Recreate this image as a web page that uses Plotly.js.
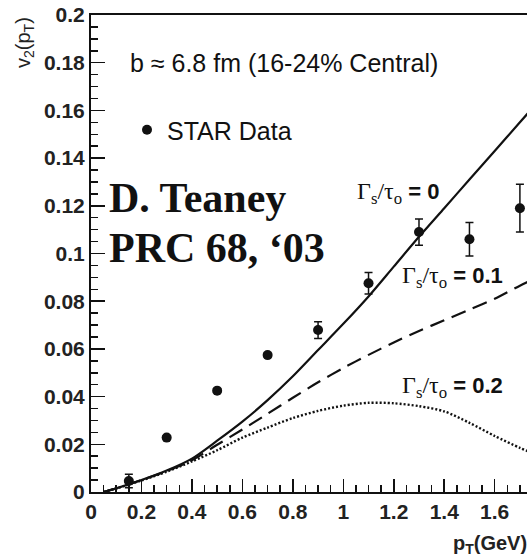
<!DOCTYPE html>
<html>
<head>
<meta charset="utf-8">
<script src="https://cdn.plot.ly/plotly-3.0.1.min.js"></script>
<style>
  html, body { margin: 0; padding: 0; background: #ffffff; }
  #chart { width: 527px; height: 555px; }
</style>
</head>
<body>
<div id="chart"></div>
<script>
// STAR v2(pT) data, 16-24% central
const starPt = [0.15, 0.3, 0.5, 0.7, 0.9, 1.1, 1.3, 1.5, 1.7];
const starV2 = [0.0046, 0.0228, 0.0425, 0.0574, 0.0679, 0.0875, 0.109, 0.106, 0.119];
const starErr = [0.0028, 0.0008, 0.0008, 0.0008, 0.0035, 0.0045, 0.0055, 0.007, 0.010];

// viscous hydro curves, Gamma_s/tau_0 = 0, 0.1, 0.2
const curvePt = [0.05, 0.1, 0.2, 0.3, 0.4, 0.5, 0.6, 0.7, 0.8, 0.9, 1.0, 1.1, 1.2, 1.3, 1.4, 1.5, 1.6, 1.7, 1.75];
const v2Ideal = [0, 0.0015, 0.005, 0.009, 0.014, 0.0215, 0.0295, 0.0385, 0.0485, 0.0595, 0.0705, 0.082, 0.0945, 0.107, 0.119, 0.131, 0.143, 0.155, 0.161];
const v2Visc01 = [0, 0.0015, 0.005, 0.0088, 0.0133, 0.0198, 0.0262, 0.0328, 0.0395, 0.046, 0.052, 0.0575, 0.0627, 0.0675, 0.072, 0.0765, 0.081, 0.0865, 0.089];
const v2Visc02 = [0, 0.0015, 0.0048, 0.0085, 0.0128, 0.0175, 0.0228, 0.027, 0.031, 0.034, 0.0362, 0.0374, 0.0372, 0.036, 0.0338, 0.029, 0.0235, 0.0185, 0.0163];

// axis ticks
const xTickVals = [0, 0.2, 0.4, 0.6, 0.8, 1, 1.2, 1.4, 1.6];
const xTickText = ['0', '0.2', '0.4', '0.6', '0.8', '1', '1.2', '1.4', '1.6'];
const yTickVals = [0, 0.02, 0.04, 0.06, 0.08, 0.1, 0.12, 0.14, 0.16, 0.18, 0.2];
const yTickText = ['0', '0.02', '0.04', '0.06', '0.08', '0.1', '0.12', '0.14', '0.16', '0.18', '0.2'];

// plot-area geometry in pixels
const W = 527, H = 555, L = 91, T = 15, PW = 436, PH = 477;
const px = x => (x - L) / PW;
const py = y => (T + PH - y) / PH;

const SANS = 'Liberation Sans, Arial, Helvetica, sans-serif';
const SERIF = 'Liberation Serif, Times New Roman, serif';

const traces = [
  {
    x: curvePt, y: v2Ideal, mode: 'lines', showlegend: false, hoverinfo: 'skip',
    line: { color: '#111', width: 2.2, shape: 'spline', smoothing: 0.8 }
  },
  {
    x: curvePt, y: v2Visc01, mode: 'lines', showlegend: false, hoverinfo: 'skip',
    line: { color: '#111', width: 2.2, dash: '15px,8px', shape: 'spline', smoothing: 0.8 }
  },
  {
    x: curvePt, y: v2Visc02, mode: 'lines', showlegend: false, hoverinfo: 'skip',
    line: { color: '#111', width: 2.4, dash: '2px,2px', shape: 'spline', smoothing: 0.8 }
  },
  {
    x: starPt, y: starV2, name: 'STAR Data', mode: 'markers', showlegend: true,
    marker: { color: '#111', size: 10, symbol: 'circle' },
    error_y: { type: 'data', array: starErr, visible: true, color: '#111', thickness: 1.5, width: 4 }
  }
];

const gammaLabel = v =>
  `<span style="font-family:${SERIF};font-size:24px">Γ<sub>s</sub>/τ<sub>o</sub></span><b> = ${v}</b>`;

const layout = {
  width: W, height: H,
  margin: { l: L, r: W - L - PW, t: T, b: H - T - PH, pad: 0 },
  paper_bgcolor: '#ffffff', plot_bgcolor: '#ffffff',
  font: { family: SANS, color: '#111' },
  showlegend: true,
  legend: {
    x: px(127), y: py(107), xanchor: 'left', yanchor: 'top',
    bgcolor: 'rgba(0,0,0,0)', borderwidth: 0,
    font: { family: SANS, size: 25, color: '#111' }
  },
  xaxis: {
    range: [0, PW / 252.3],
    tickmode: 'array', tickvals: xTickVals, ticktext: xTickText,
    ticks: 'inside', ticklen: 13, tickwidth: 1.5, tickcolor: '#111',
    minor: { dtick: 0.05, tick0: 0, ticks: 'inside', ticklen: 7, tickwidth: 1.5, tickcolor: '#111' },
    showline: true, linecolor: '#111', linewidth: 2, mirror: true,
    showgrid: false, zeroline: false,
    tickfont: { family: SANS, size: 21, weight: 700, color: '#222' }
  },
  yaxis: {
    range: [0, 0.2],
    tickmode: 'array', tickvals: yTickVals, ticktext: yTickText,
    ticks: 'inside', ticklen: 14, tickwidth: 1.5, tickcolor: '#111',
    minor: { dtick: 0.005, tick0: 0, ticks: 'inside', ticklen: 7, tickwidth: 1.5, tickcolor: '#111' },
    showline: true, linecolor: '#111', linewidth: 2,
    showgrid: false, zeroline: false,
    tickfont: { family: SANS, size: 21, weight: 700, color: '#222' }
  },
  annotations: [
    { text: 'b ≈ 6.8 fm (16-24% Central)', x: px(128), y: py(63), xref: 'paper', yref: 'paper',
      xanchor: 'left', yanchor: 'middle', showarrow: false,
      font: { family: SANS, size: 25, color: '#111' } },
    { text: '<b>D. Teaney</b>', x: px(107), y: py(198), xref: 'paper', yref: 'paper',
      xanchor: 'left', yanchor: 'middle', showarrow: false,
      font: { family: SERIF, size: 42, color: '#111' } },
    { text: '<b>PRC 68, ‘03</b>', x: px(107), y: py(248), xref: 'paper', yref: 'paper',
      xanchor: 'left', yanchor: 'middle', showarrow: false,
      font: { family: SERIF, size: 42, color: '#111' } },
    { text: gammaLabel('0'), x: px(355), y: py(193), xref: 'paper', yref: 'paper',
      xanchor: 'left', yanchor: 'middle', showarrow: false,
      font: { family: SANS, size: 22, color: '#111' } },
    { text: gammaLabel('0.1'), x: px(400), y: py(277), xref: 'paper', yref: 'paper',
      xanchor: 'left', yanchor: 'middle', showarrow: false,
      font: { family: SANS, size: 22, color: '#111' } },
    { text: gammaLabel('0.2'), x: px(400), y: py(387), xref: 'paper', yref: 'paper',
      xanchor: 'left', yanchor: 'middle', showarrow: false,
      font: { family: SANS, size: 22, color: '#111' } },
    { text: 'v<sub>2</sub>(p<sub>T</sub>)', x: px(24), y: py(43), xref: 'paper', yref: 'paper',
      xanchor: 'center', yanchor: 'middle', textangle: -90, showarrow: false,
      font: { family: SANS, size: 20, color: '#222' } },
    { text: '<b>p<sub>T</sub>(GeV)</b>', x: px(451), y: py(544), xref: 'paper', yref: 'paper',
      xanchor: 'left', yanchor: 'middle', showarrow: false,
      font: { family: SANS, size: 20, color: '#222' } }
  ]
};

Plotly.newPlot('chart', traces, layout, { staticPlot: true, displayModeBar: false });
</script>
</body>
</html>
